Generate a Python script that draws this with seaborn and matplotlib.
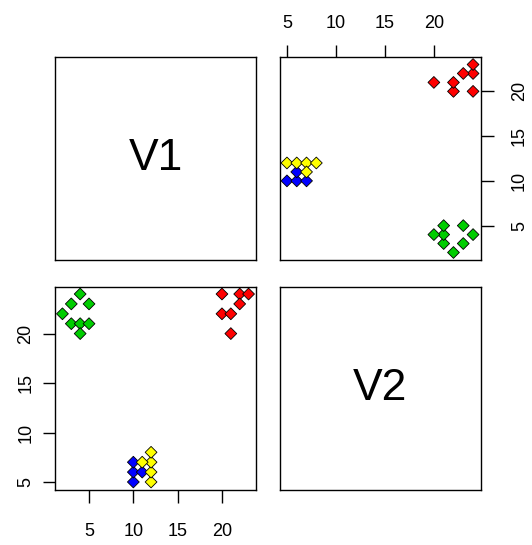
import matplotlib
matplotlib.use("Agg")
import matplotlib.pyplot as plt
import seaborn as sns
import pandas as pd

sns.set_style("white")
plt.rcParams['font.family'] = ['Liberation Sans', 'DejaVu Sans']
plt.rcParams['text.color'] = 'black'
plt.rcParams['xtick.color'] = 'black'
plt.rcParams['ytick.color'] = 'black'

# data
green_v1 = [4, 3, 5, 2, 3, 4, 5, 4]
green_v2 = [24, 23, 23, 22, 21, 21, 21, 20]
red_v1 = [20, 22, 23, 22, 20, 21, 21]
red_v2 = [24, 24, 24, 23, 22, 22, 20]
blue_v1 = [10, 10, 10, 11]
blue_v2 = [5, 6, 7, 6]
yellow_v1 = [12, 12, 12, 12, 11]
yellow_v2 = [5, 6, 7, 8, 7]
var_names = ["V1", "V2"]
ticks = [5, 10, 15, 20]

groups = ["green", "red", "blue", "yellow"]
palette = {"green": "#00CD00", "red": "#FF0000", "blue": "#0000FF", "yellow": "#FFFF00"}
rows = []
for g, a, b in [("green", green_v1, green_v2), ("red", red_v1, red_v2),
                ("blue", blue_v1, blue_v2), ("yellow", yellow_v1, yellow_v2)]:
    for x, y in zip(a, b):
        rows.append({"V1": x, "V2": y, "grp": g})
df = pd.DataFrame(rows)

def rng(s):
    lo, hi = s.min(), s.max()
    d = (hi - lo) * 0.04
    return lo - d, hi + d

lim = {"V1": rng(df["V1"]), "V2": rng(df["V2"])}

W, H = 532, 545
fig = plt.figure(figsize=(W / 100, H / 100), dpi=100)

cols = [(55, 256), (279.5, 480.5)]
rws = [(57, 260), (286.5, 489.5)]

def add(c, r):
    x0, x1 = cols[c]
    y0, y1 = rws[r]
    return fig.add_axes([x0 / W, 1 - y1 / H, (x1 - x0) / W, (y1 - y0) / H])

fs = 13
for r in range(2):
    for c in range(2):
        ax = add(c, r)
        for s in ax.spines.values():
            s.set_color("black")
            s.set_linewidth(1.0)
        if r == c:
            ax.set_xticks([])
            ax.set_yticks([])
            ax.text(0.5, 0.5, var_names[r], ha="center", va="center",
                    fontsize=32, color="black", transform=ax.transAxes)
            continue
        xv, yv = var_names[c], var_names[r]
        sns.scatterplot(data=df, x=xv, y=yv, hue="grp", palette=palette,
                        hue_order=groups, marker="D", s=36, edgecolor="black",
                        linewidth=0.6, legend=False, ax=ax)
        ax.set_xlim(*lim[xv])
        ax.set_ylim(*lim[yv])
        ax.set_xlabel("")
        ax.set_ylabel("")
        ax.set_xticks(ticks)
        ax.set_yticks(ticks)
        if r == 1:  # bottom-left
            ax.tick_params(axis="x", bottom=True, top=False, labelbottom=True,
                           labeltop=False, direction="out", length=9, width=1,
                           pad=15, labelsize=fs, color="black", labelcolor="black")
            ax.tick_params(axis="y", left=True, right=False, labelleft=True,
                           labelright=False, direction="out", length=9, width=1,
                           pad=6, labelsize=fs, color="black", labelcolor="black")
            for t in ax.get_yticklabels():
                t.set_rotation(90)
                t.set_va("center")
        else:  # top-right
            ax.tick_params(axis="x", bottom=False, top=True, labelbottom=False,
                           labeltop=True, direction="out", length=9, width=1,
                           pad=9, labelsize=fs, color="black", labelcolor="black")
            ax.tick_params(axis="y", left=False, right=True, labelleft=False,
                           labelright=True, direction="out", length=9, width=1,
                           pad=13, labelsize=fs, color="black", labelcolor="black")
            for t in ax.get_yticklabels():
                t.set_rotation(90)
                t.set_va("center")

fig.savefig("out.png", dpi=100)
